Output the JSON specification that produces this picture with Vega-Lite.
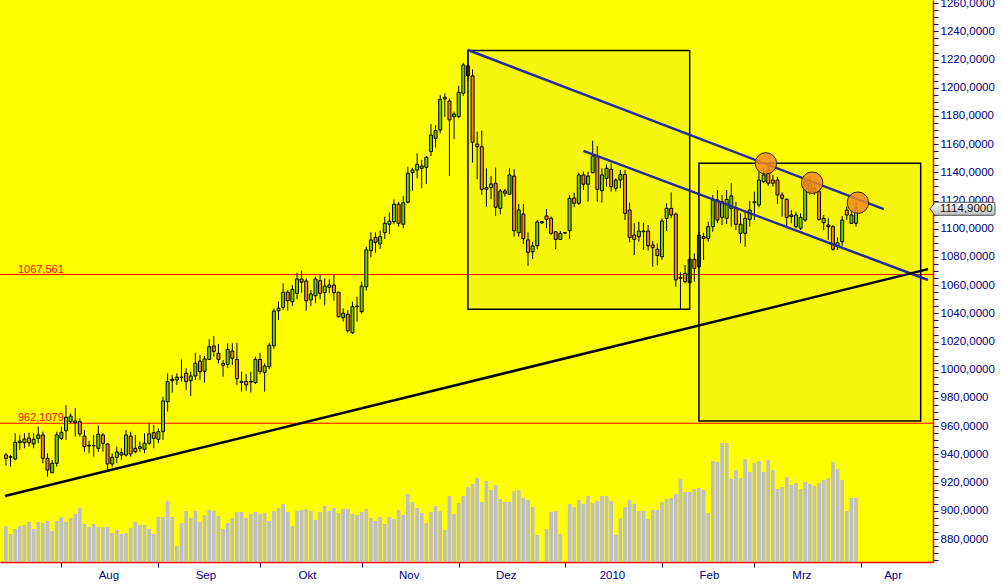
{
"$schema": "https://vega.github.io/schema/vega-lite/v6.json",
"width": 933,
"height": 562,
"autosize": {"type": "none"},
"padding": {"left": 0, "top": 0, "right": 69, "bottom": 26},
"background": "#FFFFFF",
"config": {"view": {"fill": "#FFFF00", "stroke": null}},
"datasets": {
"candles": [
{"date":"2009-07-16","day":-12,"open":939.6,"high":941.0,"low":932.0,"close":937.2,"volume":36},
{"date":"2009-07-17","day":-11,"open":938.4,"high":939.6,"low":931.3,"close":938.0,"volume":28},
{"date":"2009-07-20","day":-10,"open":936.7,"high":955.0,"low":936.0,"close":948.6,"volume":33},
{"date":"2009-07-21","day":-9,"open":948.3,"high":953.8,"low":943.1,"close":949.5,"volume":36},
{"date":"2009-07-22","day":-8,"open":948.3,"high":955.0,"low":944.3,"close":950.9,"volume":37},
{"date":"2009-07-23","day":-7,"open":951.6,"high":955.4,"low":945.5,"close":948.3,"volume":40},
{"date":"2009-07-24","day":-6,"open":947.4,"high":955.0,"low":944.3,"close":950.7,"volume":33},
{"date":"2009-07-27","day":-5,"open":951.4,"high":959.6,"low":947.9,"close":953.8,"volume":40},
{"date":"2009-07-28","day":-4,"open":953.8,"high":956.1,"low":933.7,"close":937.2,"volume":39},
{"date":"2009-07-29","day":-3,"open":937.2,"high":940.8,"low":924.2,"close":928.9,"volume":41},
{"date":"2009-07-30","day":-2,"open":927.0,"high":936.0,"low":926.6,"close":933.7,"volume":31},
{"date":"2009-07-31","day":-1,"open":933.7,"high":956.1,"low":931.3,"close":953.8,"volume":41},
{"date":"2009-08-03","day":0,"open":951.4,"high":959.6,"low":950.2,"close":955.7,"volume":45},
{"date":"2009-08-04","day":1,"open":956.8,"high":975.0,"low":950.2,"close":966.3,"volume":40},
{"date":"2009-08-05","day":2,"open":963.2,"high":969.1,"low":962.1,"close":967.2,"volume":44},
{"date":"2009-08-06","day":3,"open":963.7,"high":972.7,"low":952.6,"close":962.5,"volume":48},
{"date":"2009-08-07","day":4,"open":963.2,"high":965.6,"low":952.6,"close":954.5,"volume":54},
{"date":"2009-08-10","day":5,"open":953.0,"high":957.3,"low":941.9,"close":945.5,"volume":38},
{"date":"2009-08-11","day":6,"open":946.4,"high":949.7,"low":940.8,"close":946.0,"volume":35},
{"date":"2009-08-12","day":7,"open":946.0,"high":953.8,"low":938.4,"close":946.4,"volume":38},
{"date":"2009-08-13","day":8,"open":944.3,"high":960.4,"low":941.9,"close":954.3,"volume":35},
{"date":"2009-08-14","day":9,"open":953.8,"high":955.0,"low":941.9,"close":947.9,"volume":35},
{"date":"2009-08-17","day":10,"open":947.4,"high":947.9,"low":928.9,"close":933.2,"volume":35},
{"date":"2009-08-18","day":11,"open":933.2,"high":940.8,"low":931.3,"close":937.9,"volume":29},
{"date":"2009-08-19","day":12,"open":937.9,"high":945.5,"low":933.7,"close":941.7,"volume":32},
{"date":"2009-08-20","day":13,"open":939.6,"high":944.3,"low":936.0,"close":941.2,"volume":28},
{"date":"2009-08-21","day":14,"open":939.6,"high":957.3,"low":938.4,"close":953.8,"volume":29},
{"date":"2009-08-24","day":15,"open":953.0,"high":956.1,"low":938.4,"close":940.3,"volume":34},
{"date":"2009-08-25","day":16,"open":944.3,"high":953.8,"low":940.8,"close":941.9,"volume":40},
{"date":"2009-08-26","day":17,"open":944.3,"high":949.0,"low":941.9,"close":945.5,"volume":37},
{"date":"2009-08-27","day":18,"open":943.6,"high":955.0,"low":940.8,"close":947.9,"volume":37},
{"date":"2009-08-28","day":19,"open":947.9,"high":962.1,"low":946.7,"close":954.5,"volume":33},
{"date":"2009-08-31","day":20,"open":955.4,"high":960.9,"low":944.3,"close":951.4,"volume":28},
{"date":"2009-09-01","day":21,"open":950.7,"high":958.5,"low":947.9,"close":956.1,"volume":45},
{"date":"2009-09-02","day":22,"open":956.1,"high":980.9,"low":950.2,"close":977.9,"volume":45},
{"date":"2009-09-03","day":23,"open":977.4,"high":997.5,"low":970.3,"close":991.6,"volume":61},
{"date":"2009-09-04","day":24,"open":992.3,"high":996.3,"low":983.8,"close":993.3,"volume":45},
{"date":"2009-09-07","day":25,"open":992.8,"high":997.5,"low":989.2,"close":994.7,"volume":16},
{"date":"2009-09-08","day":26,"open":994.5,"high":1007.4,"low":991.6,"close":994.9,"volume":39},
{"date":"2009-09-09","day":27,"open":997.5,"high":1001.1,"low":985.7,"close":991.6,"volume":51},
{"date":"2009-09-10","day":28,"open":992.3,"high":998.7,"low":981.4,"close":995.6,"volume":44},
{"date":"2009-09-11","day":29,"open":995.6,"high":1012.1,"low":992.8,"close":1004.6,"volume":51},
{"date":"2009-09-14","day":30,"open":1006.2,"high":1010.5,"low":992.8,"close":998.7,"volume":40},
{"date":"2009-09-15","day":31,"open":998.9,"high":1009.8,"low":990.9,"close":1007.7,"volume":47},
{"date":"2009-09-16","day":32,"open":1007.4,"high":1021.6,"low":1006.9,"close":1016.4,"volume":52},
{"date":"2009-09-17","day":33,"open":1016.9,"high":1024.0,"low":1009.3,"close":1013.1,"volume":51},
{"date":"2009-09-18","day":34,"open":1011.7,"high":1018.3,"low":1004.6,"close":1007.4,"volume":46},
{"date":"2009-09-21","day":35,"open":1004.6,"high":1006.9,"low":995.1,"close":1003.2,"volume":33},
{"date":"2009-09-22","day":36,"open":1003.9,"high":1018.8,"low":1001.1,"close":1014.5,"volume":39},
{"date":"2009-09-23","day":37,"open":1013.3,"high":1018.8,"low":1003.4,"close":1008.2,"volume":44},
{"date":"2009-09-24","day":38,"open":1007.4,"high":1019.2,"low":989.2,"close":993.7,"volume":50},
{"date":"2009-09-25","day":39,"open":991.8,"high":998.7,"low":984.5,"close":990.9,"volume":50},
{"date":"2009-09-28","day":40,"open":991.8,"high":997.0,"low":985.2,"close":989.4,"volume":44},
{"date":"2009-09-29","day":41,"open":991.3,"high":998.7,"low":983.8,"close":991.8,"volume":48},
{"date":"2009-09-30","day":42,"open":990.9,"high":1009.3,"low":989.9,"close":1007.4,"volume":50},
{"date":"2009-10-01","day":43,"open":1007.4,"high":1012.1,"low":996.8,"close":998.9,"volume":48},
{"date":"2009-10-02","day":44,"open":998.2,"high":1004.6,"low":984.5,"close":1002.7,"volume":49},
{"date":"2009-10-05","day":45,"open":1002.2,"high":1019.2,"low":1000.4,"close":1017.4,"volume":41},
{"date":"2009-10-06","day":46,"open":1017.1,"high":1043.6,"low":1014.7,"close":1041.7,"volume":51},
{"date":"2009-10-07","day":47,"open":1041.9,"high":1048.3,"low":1035.3,"close":1043.6,"volume":54},
{"date":"2009-10-08","day":48,"open":1044.3,"high":1061.3,"low":1042.4,"close":1055.0,"volume":58},
{"date":"2009-10-09","day":49,"open":1055.0,"high":1056.6,"low":1041.9,"close":1049.0,"volume":50},
{"date":"2009-10-12","day":50,"open":1048.3,"high":1060.1,"low":1045.2,"close":1057.1,"volume":36},
{"date":"2009-10-13","day":51,"open":1054.2,"high":1068.9,"low":1050.0,"close":1064.4,"volume":51},
{"date":"2009-10-14","day":52,"open":1064.4,"high":1070.3,"low":1054.7,"close":1062.1,"volume":52},
{"date":"2009-10-15","day":53,"open":1063.0,"high":1064.9,"low":1041.9,"close":1049.0,"volume":53},
{"date":"2009-10-16","day":54,"open":1049.5,"high":1056.6,"low":1045.2,"close":1053.8,"volume":51},
{"date":"2009-10-19","day":55,"open":1052.5,"high":1066.0,"low":1047.2,"close":1064.4,"volume":42},
{"date":"2009-10-20","day":56,"open":1063.2,"high":1067.7,"low":1050.0,"close":1054.2,"volume":50},
{"date":"2009-10-21","day":57,"open":1054.7,"high":1064.9,"low":1046.0,"close":1059.4,"volume":56},
{"date":"2009-10-22","day":58,"open":1058.5,"high":1064.2,"low":1054.2,"close":1060.1,"volume":51},
{"date":"2009-10-23","day":59,"open":1060.1,"high":1067.2,"low":1049.0,"close":1054.7,"volume":54},
{"date":"2009-10-26","day":60,"open":1055.0,"high":1055.4,"low":1037.0,"close":1037.7,"volume":49},
{"date":"2009-10-27","day":61,"open":1037.0,"high":1043.6,"low":1034.1,"close":1040.1,"volume":53},
{"date":"2009-10-28","day":62,"open":1039.4,"high":1042.4,"low":1026.3,"close":1027.7,"volume":53},
{"date":"2009-10-29","day":63,"open":1026.3,"high":1048.3,"low":1025.4,"close":1044.8,"volume":48},
{"date":"2009-10-30","day":64,"open":1044.8,"high":1051.8,"low":1034.1,"close":1045.2,"volume":47},
{"date":"2009-11-02","day":65,"open":1041.2,"high":1062.5,"low":1039.6,"close":1059.4,"volume":50},
{"date":"2009-11-03","day":66,"open":1058.9,"high":1087.3,"low":1056.1,"close":1085.0,"volume":53},
{"date":"2009-11-04","day":67,"open":1084.5,"high":1097.5,"low":1079.8,"close":1092.1,"volume":44},
{"date":"2009-11-05","day":68,"open":1093.9,"high":1097.5,"low":1083.0,"close":1090.4,"volume":41},
{"date":"2009-11-06","day":69,"open":1089.2,"high":1098.7,"low":1085.7,"close":1094.4,"volume":45},
{"date":"2009-11-09","day":70,"open":1097.2,"high":1108.6,"low":1092.8,"close":1103.9,"volume":38},
{"date":"2009-11-10","day":71,"open":1103.2,"high":1111.7,"low":1096.1,"close":1105.5,"volume":45},
{"date":"2009-11-11","day":72,"open":1105.0,"high":1120.9,"low":1103.2,"close":1117.4,"volume":43},
{"date":"2009-11-12","day":73,"open":1117.4,"high":1119.2,"low":1101.5,"close":1103.9,"volume":52},
{"date":"2009-11-13","day":74,"open":1103.2,"high":1123.3,"low":1100.4,"close":1118.5,"volume":47},
{"date":"2009-11-16","day":75,"open":1118.8,"high":1144.0,"low":1118.1,"close":1139.4,"volume":68},
{"date":"2009-11-17","day":76,"open":1139.8,"high":1143.3,"low":1127.0,"close":1141.7,"volume":60},
{"date":"2009-11-18","day":77,"open":1141.7,"high":1153.5,"low":1135.8,"close":1145.7,"volume":54},
{"date":"2009-11-19","day":78,"open":1142.9,"high":1148.8,"low":1128.7,"close":1144.5,"volume":49},
{"date":"2009-11-20","day":79,"open":1143.6,"high":1151.6,"low":1131.8,"close":1150.7,"volume":39},
{"date":"2009-11-23","day":80,"open":1154.7,"high":1174.3,"low":1151.6,"close":1166.5,"volume":50},
{"date":"2009-11-24","day":81,"open":1164.2,"high":1173.6,"low":1157.5,"close":1169.6,"volume":56},
{"date":"2009-11-25","day":82,"open":1170.1,"high":1194.9,"low":1167.7,"close":1191.8,"volume":51},
{"date":"2009-11-26","day":83,"open":1192.1,"high":1196.1,"low":1179.5,"close":1193.3,"volume":32},
{"date":"2009-11-27","day":84,"open":1190.6,"high":1192.5,"low":1137.4,"close":1177.2,"volume":66},
{"date":"2009-11-30","day":85,"open":1179.5,"high":1183.1,"low":1163.5,"close":1181.4,"volume":48},
{"date":"2009-12-01","day":86,"open":1179.5,"high":1201.5,"low":1178.4,"close":1196.8,"volume":59},
{"date":"2009-12-02","day":87,"open":1196.1,"high":1217.8,"low":1194.2,"close":1216.2,"volume":66},
{"date":"2009-12-03","day":88,"open":1215.5,"high":1226.5,"low":1205.0,"close":1208.5,"volume":75},
{"date":"2009-12-04","day":89,"open":1208.4,"high":1213.1,"low":1146.9,"close":1161.4,"volume":78},
{"date":"2009-12-07","day":90,"open":1160.1,"high":1168.9,"low":1135.1,"close":1158.2,"volume":84},
{"date":"2009-12-08","day":91,"open":1158.2,"high":1169.6,"low":1124.0,"close":1128.0,"volume":60},
{"date":"2009-12-09","day":92,"open":1129.2,"high":1142.9,"low":1115.7,"close":1128.0,"volume":81},
{"date":"2009-12-10","day":93,"open":1129.2,"high":1137.4,"low":1120.9,"close":1131.8,"volume":72},
{"date":"2009-12-11","day":94,"open":1132.3,"high":1143.3,"low":1109.1,"close":1115.3,"volume":77},
{"date":"2009-12-14","day":95,"open":1114.5,"high":1128.2,"low":1110.3,"close":1126.8,"volume":63},
{"date":"2009-12-15","day":96,"open":1126.8,"high":1128.2,"low":1122.8,"close":1125.2,"volume":60},
{"date":"2009-12-16","day":97,"open":1124.5,"high":1142.9,"low":1124.0,"close":1138.2,"volume":60},
{"date":"2009-12-17","day":98,"open":1137.4,"high":1142.2,"low":1094.4,"close":1098.6,"volume":71},
{"date":"2009-12-18","day":99,"open":1097.2,"high":1117.6,"low":1094.4,"close":1113.3,"volume":72},
{"date":"2009-12-21","day":100,"open":1110.5,"high":1117.6,"low":1089.2,"close":1093.0,"volume":64},
{"date":"2009-12-22","day":101,"open":1092.1,"high":1097.5,"low":1073.8,"close":1083.3,"volume":62},
{"date":"2009-12-23","day":102,"open":1083.7,"high":1090.8,"low":1078.6,"close":1087.8,"volume":55},
{"date":"2009-12-24","day":103,"open":1088.0,"high":1106.2,"low":1085.7,"close":1104.8,"volume":27},
{"date":"2009-12-25","day":104,"open":1104.2,"high":1105.5,"low":1103.4,"close":1105.0,"volume":0},
{"date":"2009-12-28","day":105,"open":1109.1,"high":1114.0,"low":1100.4,"close":1106.7,"volume":33},
{"date":"2009-12-29","day":106,"open":1107.5,"high":1108.6,"low":1095.6,"close":1096.8,"volume":50},
{"date":"2009-12-30","day":107,"open":1097.9,"high":1098.4,"low":1085.7,"close":1092.5,"volume":51},
{"date":"2009-12-31","day":108,"open":1092.5,"high":1098.4,"low":1092.1,"close":1096.8,"volume":28},
{"date":"2010-01-01","day":109,"open":1097.0,"high":1097.5,"low":1096.5,"close":1097.2,"volume":0},
{"date":"2010-01-04","day":110,"open":1098.6,"high":1124.0,"low":1092.8,"close":1121.6,"volume":58},
{"date":"2010-01-05","day":111,"open":1121.8,"high":1125.6,"low":1115.2,"close":1118.1,"volume":55},
{"date":"2010-01-06","day":112,"open":1118.1,"high":1139.8,"low":1116.9,"close":1138.2,"volume":62},
{"date":"2010-01-07","day":113,"open":1138.2,"high":1140.5,"low":1127.5,"close":1131.6,"volume":58},
{"date":"2010-01-08","day":114,"open":1131.6,"high":1140.5,"low":1119.2,"close":1137.4,"volume":66},
{"date":"2010-01-11","day":115,"open":1139.8,"high":1162.5,"low":1139.4,"close":1151.6,"volume":59},
{"date":"2010-01-12","day":116,"open":1151.1,"high":1158.7,"low":1119.2,"close":1128.0,"volume":61},
{"date":"2010-01-13","day":117,"open":1127.0,"high":1142.9,"low":1118.5,"close":1138.2,"volume":66},
{"date":"2010-01-14","day":118,"open":1135.8,"high":1145.7,"low":1129.9,"close":1142.9,"volume":66},
{"date":"2010-01-15","day":119,"open":1142.2,"high":1146.4,"low":1126.3,"close":1129.9,"volume":61},
{"date":"2010-01-18","day":120,"open":1128.7,"high":1135.8,"low":1126.3,"close":1134.6,"volume":27},
{"date":"2010-01-19","day":121,"open":1134.6,"high":1141.7,"low":1128.7,"close":1138.6,"volume":44},
{"date":"2010-01-20","day":122,"open":1138.6,"high":1141.7,"low":1106.2,"close":1111.0,"volume":55},
{"date":"2010-01-21","day":123,"open":1113.3,"high":1118.5,"low":1090.4,"close":1093.9,"volume":62},
{"date":"2010-01-22","day":124,"open":1095.6,"high":1103.9,"low":1081.4,"close":1092.5,"volume":58},
{"date":"2010-01-25","day":125,"open":1094.4,"high":1105.0,"low":1090.8,"close":1098.4,"volume":51},
{"date":"2010-01-26","day":126,"open":1097.9,"high":1104.3,"low":1085.0,"close":1098.4,"volume":51},
{"date":"2010-01-27","day":127,"open":1098.4,"high":1102.7,"low":1084.5,"close":1088.0,"volume":43},
{"date":"2010-01-28","day":128,"open":1088.5,"high":1091.3,"low":1073.1,"close":1086.6,"volume":52},
{"date":"2010-01-29","day":129,"open":1085.5,"high":1089.7,"low":1074.3,"close":1081.0,"volume":52},
{"date":"2010-02-01","day":130,"open":1080.2,"high":1107.4,"low":1077.9,"close":1105.5,"volume":60},
{"date":"2010-02-02","day":131,"open":1107.4,"high":1118.1,"low":1098.4,"close":1114.5,"volume":63},
{"date":"2010-02-03","day":132,"open":1114.5,"high":1125.9,"low":1107.4,"close":1109.8,"volume":64},
{"date":"2010-02-04","day":133,"open":1110.5,"high":1111.4,"low":1058.9,"close":1063.7,"volume":68},
{"date":"2010-02-05","day":134,"open":1065.6,"high":1069.1,"low":1043.1,"close":1064.9,"volume":83},
{"date":"2010-02-08","day":135,"open":1068.4,"high":1074.3,"low":1061.3,"close":1062.5,"volume":70},
{"date":"2010-02-09","day":136,"open":1061.8,"high":1080.0,"low":1060.8,"close":1078.4,"volume":70},
{"date":"2010-02-10","day":137,"open":1078.4,"high":1082.6,"low":1062.5,"close":1072.0,"volume":73},
{"date":"2010-02-11","day":138,"open":1073.1,"high":1097.7,"low":1072.2,"close":1095.4,"volume":74},
{"date":"2010-02-12","day":139,"open":1094.4,"high":1097.2,"low":1077.9,"close":1093.2,"volume":72},
{"date":"2010-02-15","day":140,"open":1093.2,"high":1105.0,"low":1090.8,"close":1101.5,"volume":49},
{"date":"2010-02-16","day":141,"open":1101.5,"high":1124.0,"low":1097.9,"close":1120.4,"volume":101},
{"date":"2010-02-17","day":142,"open":1120.4,"high":1127.5,"low":1103.9,"close":1106.2,"volume":100},
{"date":"2010-02-18","day":143,"open":1108.1,"high":1124.0,"low":1102.7,"close":1119.2,"volume":119},
{"date":"2010-02-19","day":144,"open":1107.4,"high":1127.5,"low":1103.4,"close":1120.9,"volume":119},
{"date":"2010-02-22","day":145,"open":1114.5,"high":1132.3,"low":1101.5,"close":1123.3,"volume":83},
{"date":"2010-02-23","day":146,"open":1115.0,"high":1119.2,"low":1099.1,"close":1103.2,"volume":92},
{"date":"2010-02-24","day":147,"open":1096.8,"high":1111.0,"low":1089.7,"close":1103.2,"volume":84},
{"date":"2010-02-25","day":148,"open":1096.8,"high":1112.1,"low":1087.3,"close":1107.4,"volume":103},
{"date":"2010-02-26","day":149,"open":1106.7,"high":1119.9,"low":1101.5,"close":1113.3,"volume":90},
{"date":"2010-03-01","day":150,"open":1118.5,"high":1126.3,"low":1106.2,"close":1119.2,"volume":99},
{"date":"2010-03-02","day":151,"open":1116.9,"high":1140.5,"low":1115.2,"close":1134.6,"volume":101},
{"date":"2010-03-03","day":152,"open":1133.4,"high":1143.6,"low":1132.3,"close":1138.2,"volume":90},
{"date":"2010-03-04","day":153,"open":1141.7,"high":1145.3,"low":1130.4,"close":1132.3,"volume":102},
{"date":"2010-03-05","day":154,"open":1134.6,"high":1138.2,"low":1129.9,"close":1132.3,"volume":92},
{"date":"2010-03-08","day":155,"open":1134.6,"high":1137.0,"low":1117.6,"close":1124.0,"volume":73},
{"date":"2010-03-09","day":156,"open":1124.0,"high":1125.9,"low":1108.6,"close":1121.6,"volume":75},
{"date":"2010-03-10","day":157,"open":1120.9,"high":1121.6,"low":1100.4,"close":1108.1,"volume":85},
{"date":"2010-03-11","day":158,"open":1109.8,"high":1113.3,"low":1103.9,"close":1108.6,"volume":77},
{"date":"2010-03-12","day":159,"open":1101.5,"high":1112.1,"low":1100.4,"close":1109.8,"volume":79},
{"date":"2010-03-15","day":160,"open":1100.4,"high":1111.0,"low":1099.1,"close":1108.1,"volume":73},
{"date":"2010-03-16","day":161,"open":1106.2,"high":1135.8,"low":1105.0,"close":1133.4,"volume":80},
{"date":"2010-03-17","day":162,"open":1126.3,"high":1137.0,"low":1124.0,"close":1132.3,"volume":78},
{"date":"2010-03-18","day":163,"open":1128.7,"high":1133.4,"low":1124.0,"close":1126.3,"volume":76},
{"date":"2010-03-19","day":164,"open":1126.3,"high":1127.5,"low":1105.8,"close":1106.7,"volume":79},
{"date":"2010-03-22","day":165,"open":1104.3,"high":1109.8,"low":1099.1,"close":1107.4,"volume":82},
{"date":"2010-03-23","day":166,"open":1102.7,"high":1107.4,"low":1092.1,"close":1101.5,"volume":84},
{"date":"2010-03-24","day":167,"open":1101.5,"high":1102.7,"low":1084.5,"close":1085.5,"volume":100},
{"date":"2010-03-25","day":168,"open":1087.3,"high":1094.0,"low":1085.0,"close":1090.1,"volume":93},
{"date":"2010-03-26","day":169,"open":1090.8,"high":1109.1,"low":1087.8,"close":1106.2,"volume":82},
{"date":"2010-03-29","day":170,"open":1113.3,"high":1115.7,"low":1106.2,"close":1109.8,"volume":51},
{"date":"2010-03-30","day":171,"open":1103.9,"high":1113.3,"low":1103.4,"close":1109.8,"volume":64},
{"date":"2010-03-31","day":172,"open":1103.9,"high":1119.2,"low":1101.5,"close":1114.9,"volume":64}
],
"levels": [
{"level": 1067.561, "label": "1067,561"},
{"level": 962.1079, "label": "962,1079"}
],
"boxes": [
{"box": "Dez-Feb", "start": 88, "end": 136, "top": 1226.5, "bottom": 1042.9},
{"box": "Feb-Apr", "start": 138, "end": 186, "top": 1146.4, "bottom": 963.7}
],
"trendlines": [
{"line": "upper", "start": 88, "from": 1226.8, "end": 178, "to": 1114.0},
{"line": "lower", "start": 113, "from": 1155.3, "end": 187.58, "to": 1063.7},
{"line": "support", "start": -12.2, "from": 910.5, "end": 187.58, "to": 1071.4}
],
"touches": [
{"day": 152.5, "price": 1146.4},
{"day": 162.5, "price": 1132.7},
{"day": 172.4, "price": 1118.5}
],
"last": [
{"label": "1114,9000", "close": 1114.9}
]
},
"layer": [
{
"data": {"name": "candles"},
"mark": {"type": "bar", "orient": "vertical", "size": 3.7, "color": "#C0C0C0"},
"encoding": {
"x": {"field": "day", "type": "quantitative", "scale": {"domain": [-12.2, 187.58], "nice": false, "zero": false},
"axis": {"orient": "bottom", "title": null, "grid": false, "values": [0, 21, 43, 65, 86, 109, 130, 150, 173],
"labelExpr": "datum.value == 0 ? 'Aug' : datum.value == 21 ? 'Sep' : datum.value == 43 ? 'Okt' : datum.value == 65 ? 'Nov' : datum.value == 86 ? 'Dez' : datum.value == 109 ? '2010' : datum.value == 130 ? 'Feb' : datum.value == 150 ? 'Mrz' : 'Apr'",
"domainColor": "#FF0000", "domainWidth": 1.5, "tickColor": "#000080", "tickSize": 5, "tickWidth": 1,
"labelColor": "#000080", "labelFont": "Liberation Sans", "labelFontSize": 11.5, "labelPadding": 2,
"labelOffset": {"condition": {"test": "datum.value == 173", "value": 32}, "value": 47},
"labelFlush": false, "labelOverlap": false, "labelBound": false}},
"y": {"field": "volume", "type": "quantitative", "scale": {"domain": [0, 562], "nice": false, "zero": true}, "axis": null}
}
},
{
"data": {"name": "boxes"},
"mark": {"type": "rect", "color": "#F6F60C"},
"encoding": {
"x": {"field": "start", "type": "quantitative", "scale": {"domain": [-12.2, 187.58], "nice": false, "zero": false}, "axis": null},
"x2": {"field": "end"},
"y": {"field": "top", "type": "quantitative", "scale": {"domain": [863.69, 1262.26], "nice": false, "zero": false}, "axis": null},
"y2": {"field": "bottom"}
}
},
{
"data": {"name": "levels"},
"mark": {"type": "rule", "color": "#FF0000", "strokeWidth": 1},
"encoding": {
"y": {"field": "level", "type": "quantitative", "scale": {"domain": [863.69, 1262.26], "nice": false, "zero": false}, "axis": null}
}
},
{
"data": {"name": "levels"},
"mark": {"type": "text", "color": "#FF0000", "font": "Liberation Sans", "fontSize": 11, "align": "left", "baseline": "alphabetic", "dy": -2},
"encoding": {
"x": {"datum": -9.4, "type": "quantitative", "scale": {"domain": [-12.2, 187.58], "nice": false, "zero": false}, "axis": null},
"y": {"field": "level", "type": "quantitative", "scale": {"domain": [863.69, 1262.26], "nice": false, "zero": false}, "axis": null},
"text": {"field": "label"}
}
},
{
"data": {"name": "candles"},
"mark": {"type": "rule", "color": "#000000", "strokeWidth": 1},
"encoding": {
"x": {"field": "day", "type": "quantitative", "scale": {"domain": [-12.2, 187.58], "nice": false, "zero": false}, "axis": null},
"y": {"field": "low", "type": "quantitative", "scale": {"domain": [863.69, 1262.26], "nice": false, "zero": false},
"axis": {"orient": "right", "title": null, "grid": false,
"values": [865,870,875,880,885,890,895,900,905,910,915,920,925,930,935,940,945,950,955,960,965,970,975,980,985,990,995,1000,1005,1010,1015,1020,1025,1030,1035,1040,1045,1050,1055,1060,1065,1070,1075,1080,1085,1090,1095,1100,1105,1110,1115,1120,1125,1130,1135,1140,1145,1150,1155,1160,1165,1170,1175,1180,1185,1190,1195,1200,1205,1210,1215,1220,1225,1230,1235,1240,1245,1250,1255,1260],
"labelExpr": "datum.value % 20 == 0 ? datum.value + ',0000' : ''",
"labelFontSize": {"condition": {"test": "datum.value % 20 != 0", "value": 0}, "value": 11.5},
"domainColor": "#FF0000", "domainWidth": 1.5, "tickColor": "#000080", "tickSize": 5, "tickWidth": 1,
"labelColor": "#000080", "labelFont": "Liberation Sans", "labelPadding": 2,
"labelOverlap": false, "labelFlush": false, "labelBound": false}},
"y2": {"field": "high"}
}
},
{
"data": {"name": "candles"},
"mark": {"type": "bar", "size": 3, "stroke": "#000000", "strokeWidth": 1},
"encoding": {
"x": {"field": "day", "type": "quantitative", "scale": {"domain": [-12.2, 187.58], "nice": false, "zero": false}, "axis": null},
"y": {"field": "open", "type": "quantitative", "scale": {"domain": [863.69, 1262.26], "nice": false, "zero": false}, "axis": null},
"y2": {"field": "close"},
"color": {"condition": {"test": "datum.close >= datum.open", "value": "#7EC800"}, "value": "#EE8A22"}
}
},
{
"data": {"name": "boxes"},
"mark": {"type": "rect", "filled": false, "color": "#000000", "strokeWidth": 1.5},
"encoding": {
"x": {"field": "start", "type": "quantitative", "scale": {"domain": [-12.2, 187.58], "nice": false, "zero": false}, "axis": null},
"x2": {"field": "end"},
"y": {"field": "top", "type": "quantitative", "scale": {"domain": [863.69, 1262.26], "nice": false, "zero": false}, "axis": null},
"y2": {"field": "bottom"}
}
},
{
"data": {"name": "trendlines"},
"mark": {"type": "rule", "strokeWidth": 2.5},
"encoding": {
"x": {"field": "start", "type": "quantitative", "scale": {"domain": [-12.2, 187.58], "nice": false, "zero": false}, "axis": null},
"x2": {"field": "end"},
"y": {"field": "from", "type": "quantitative", "scale": {"domain": [863.69, 1262.26], "nice": false, "zero": false}, "axis": null},
"y2": {"field": "to"},
"color": {"field": "line", "type": "nominal", "scale": {"domain": ["upper", "lower", "support"], "range": ["#2A2AA0", "#2A2AA0", "#000000"]}, "legend": null}
}
},
{
"data": {"name": "touches"},
"mark": {"type": "point", "shape": "circle", "size": 460, "filled": true, "fill": "#F28A1E", "fillOpacity": 0.85, "stroke": "#3A2500", "strokeWidth": 1, "opacity": 1},
"encoding": {
"x": {"field": "day", "type": "quantitative", "scale": {"domain": [-12.2, 187.58], "nice": false, "zero": false}, "axis": null},
"y": {"field": "price", "type": "quantitative", "scale": {"domain": [863.69, 1262.26], "nice": false, "zero": false}, "axis": null}
}
},
{
"data": {"name": "last"},
"mark": {"type": "point", "shape": "M -1 0 L -0.846 -0.2 L 0.95 -0.2 Q 1 -0.2 1 -0.15 L 1 0.15 Q 1 0.2 0.95 0.2 L -0.846 0.2 Z", "size": 4225, "filled": true, "opacity": 1,
"fill": {"gradient": "linear", "x1": 0, "y1": 0, "x2": 0, "y2": 1, "stops": [{"offset": 0, "color": "#FFFFFF"}, {"offset": 1, "color": "#BDBDBD"}]},
"stroke": "#505050", "strokeWidth": 1, "xOffset": 34.5, "yOffset": 1},
"encoding": {
"x": {"datum": 187.58, "type": "quantitative", "scale": {"domain": [-12.2, 187.58], "nice": false, "zero": false}, "axis": null},
"y": {"field": "close", "type": "quantitative", "scale": {"domain": [863.69, 1262.26], "nice": false, "zero": false}, "axis": null}
}
},
{
"data": {"name": "last"},
"mark": {"type": "text", "font": "Liberation Sans", "fontSize": 11.5, "color": "#111111", "align": "left", "baseline": "middle", "dx": 12, "dy": 1},
"encoding": {
"x": {"datum": 187.58, "type": "quantitative", "scale": {"domain": [-12.2, 187.58], "nice": false, "zero": false}, "axis": null},
"y": {"field": "close", "type": "quantitative", "scale": {"domain": [863.69, 1262.26], "nice": false, "zero": false}, "axis": null},
"text": {"field": "label"}
}
}
],
"resolve": {"scale": {"y": "independent"}, "axis": {"y": "independent", "x": "independent"}}
}
